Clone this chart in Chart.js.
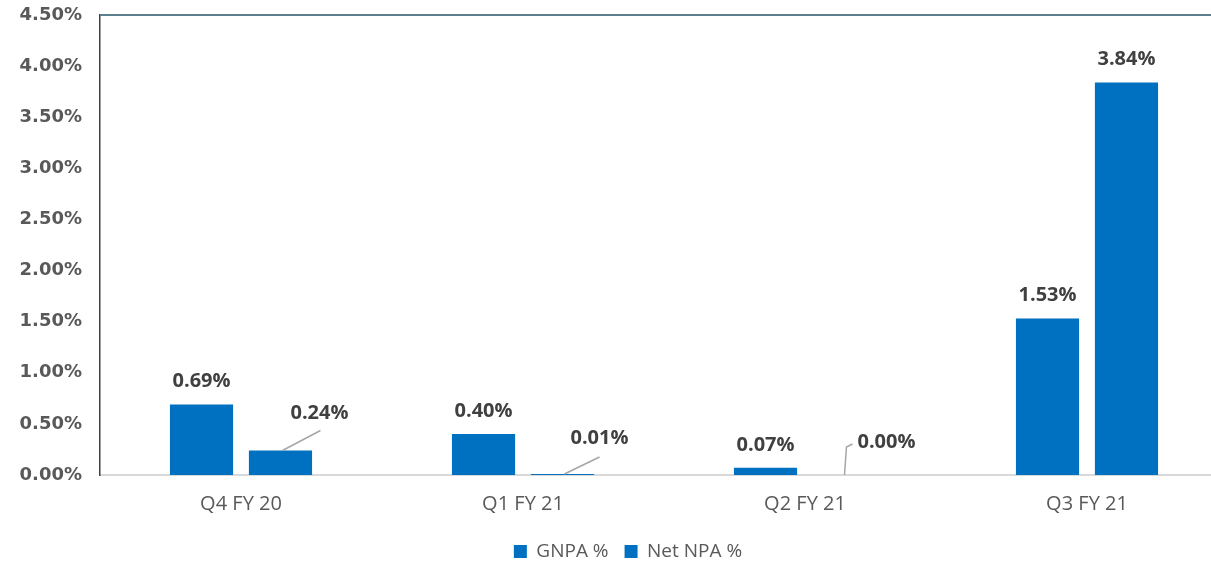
<!DOCTYPE html>
<html>
<head>
<meta charset="utf-8">
<script src="https://cdn.jsdelivr.net/npm/chart.js@4.4.1/dist/chart.umd.min.js"></script>
<style>
  html, body { margin: 0; padding: 0; background: #ffffff; overflow: hidden; }
  #wrap { width: 1228px; height: 563px; position: relative; }
</style>
</head>
<body>
<div id="wrap"><canvas id="npa"></canvas></div>
<script>
// Asset quality by quarter
const quarters = ['Q4 FY 20', 'Q1 FY 21', 'Q2 FY 21', 'Q3 FY 21'];
const gnpaPct = [0.69, 0.40, 0.07, 1.53];
const netNpaPct = [0.24, 0.01, 0.00, 3.84];
const seriesNames = ['GNPA %', 'Net NPA %'];
const yTickMax = 4.5;
const yTickStep = 0.5;

const BAR_BLUE = '#0070C0';
const TEXT_DARK = '#404040';
const TEXT_GREY = '#595959';

// Label placement for the Net NPA series: leader-line callouts for the small values
// [dx, dy] of leader points and label anchor relative to the bar top centre
const netCallouts = [
  { leader: [[2, 0], [40, -20]], label: [39, -37], align: 'center' },
  { leader: [[2, 0], [37, -17]], label: [37, -36], align: 'center' },
  { leader: [[0, 0], [2, -28], [8, -31]], label: [13, -33], align: 'left' },
  null
];

const valueLabels = {
  id: 'valueLabels',
  afterDatasetsDraw(chart) {
    const ctx = chart.ctx;
    ctx.save();
    ctx.font = 'bold 20px "Open Sans", sans-serif';
    ctx.fillStyle = TEXT_DARK;
    ctx.textBaseline = 'middle';
    chart.data.datasets.forEach((ds, di) => {
      const meta = chart.getDatasetMeta(di);
      meta.data.forEach((bar, i) => {
        const txt = ds.data[i].toFixed(2) + '%';
        const x = bar.x, y = bar.y;
        const co = di === 1 ? netCallouts[i] : null;
        if (co) {
          ctx.strokeStyle = '#A6A6A6';
          ctx.lineWidth = 1.5;
          ctx.beginPath();
          co.leader.forEach((p, k) => {
            if (k === 0) ctx.moveTo(x + p[0], y + p[1]);
            else ctx.lineTo(x + p[0], y + p[1]);
          });
          ctx.stroke();
          ctx.textAlign = co.align;
          ctx.fillText(txt, x + co.label[0], y + co.label[1]);
        } else {
          ctx.textAlign = 'center';
          ctx.fillText(txt, x, y - 23);
        }
      });
    });
    ctx.restore();
  }
};

// Top frame line across the plot, and a small rightward nudge of the legend
const frameLines = {
  id: 'frameLines',
  afterLayout(chart) {
    if (chart.legend) {
      chart.legend.left += 14;
      chart.legend.right += 14;
    }
  },
  afterDraw(chart) {
    const { ctx, chartArea: a } = chart;
    ctx.save();
    ctx.strokeStyle = '#5B7F8C';
    ctx.lineWidth = 2;
    ctx.beginPath();
    ctx.moveTo(a.left, a.top);
    ctx.lineTo(chart.width, a.top);
    ctx.stroke();
    ctx.restore();
  }
};

new Chart(document.getElementById('npa'), {
  type: 'bar',
  data: {
    labels: quarters,
    datasets: [
      { label: seriesNames[0], data: gnpaPct, backgroundColor: BAR_BLUE },
      { label: seriesNames[1], data: netNpaPct, backgroundColor: BAR_BLUE }
    ]
  },
  options: {
    responsive: true,
    maintainAspectRatio: false,
    animation: false,
    categoryPercentage: 0.56,
    barPercentage: 0.8,
    layout: { padding: { top: 15, left: 0, right: 0, bottom: -8 } },
    plugins: {
      tooltip: { enabled: false },
      legend: {
        position: 'bottom',
        labels: {
          color: TEXT_GREY,
          font: { family: '"Open Sans", sans-serif', size: 19 },
          boxWidth: 13,
          boxHeight: 13,
          padding: 16
        }
      }
    },
    scales: {
      x: {
        grid: { display: false, drawTicks: false },
        border: { color: '#D9D9D9', width: 2 },
        ticks: {
          color: TEXT_GREY,
          font: { family: '"Open Sans", sans-serif', size: 20 },
          padding: 17
        },
        afterFit(s) { s.height = 51; }
      },
      y: {
        min: 0,
        max: yTickMax,
        grid: { display: false, drawTicks: false },
        border: { color: '#404040', width: 1.5 },
        ticks: {
          stepSize: yTickStep,
          color: TEXT_GREY,
          font: { family: '"DejaVu Sans", sans-serif', size: 18, weight: 'bold' },
          padding: 18,
          callback: v => v.toFixed(2) + '%'
        },
        afterFit(s) { s.width = 100; s.paddingTop = 0; s.paddingBottom = 0; }
      }
    }
  },
  plugins: [valueLabels, frameLines]
});
</script>
</body>
</html>
